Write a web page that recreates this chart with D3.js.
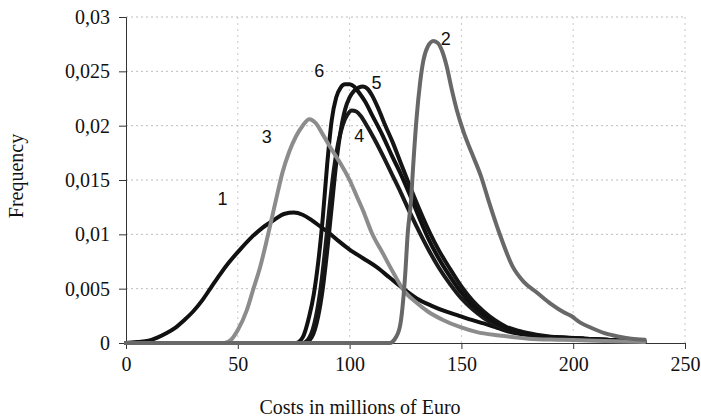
<!DOCTYPE html>
<html>
<head>
<meta charset="utf-8">
<script src="https://cdn.jsdelivr.net/npm/d3@7"></script>
<style>
  html, body { margin: 0; padding: 0; background: #fff; }
  svg { display: block; }
</style>
</head>
<body>
<svg id="chart" width="701" height="418"></svg>
<script>
// ---- data ----
const xTicks = [0, 50, 100, 150, 200, 250];
const yTicks = [0, 0.005, 0.01, 0.015, 0.02, 0.025, 0.03];
const yTickLabels = ["0", "0,005", "0,01", "0,015", "0,02", "0,025", "0,03"];
const xTitle = "Costs in millions of Euro";
const yTitle = "Frequency";

const c1x = [0,5,10,14,18,22,26,30,34,38,42,46,51,56,61,66,71,75,79,83,87,91,95,100,106,112,118,124,130,137,143,149,155,160,166,172,180,190,200,210,220,232];
const c1y = [0,0.0001,0.0002,0.0005,0.0009,0.0014,0.0021,0.0029,0.0039,0.0051,0.0063,0.0074,0.0086,0.0097,0.0106,0.0113,0.0119,0.0120,0.0118,0.0113,0.0107,0.0101,0.0094,0.0086,0.0078,0.0070,0.0060,0.0050,0.0041,0.0034,0.0029,0.0025,0.0021,0.0018,0.0014,0.0010,0.0007,0.0005,0.0004,0.0003,0.0002,0.0001];

const c2x = [0,118,120,122.5,124.8,126,127.5,128.4,130,131.5,133,135,137.5,139.5,141.5,143.5,145.5,148,151,154.6,159,162,167,173,178,184,190,196,199,203,208,214,220,226,232];
const c2y = [0,0,0.0003,0.0015,0.0061,0.0101,0.0132,0.0162,0.0208,0.0239,0.0260,0.0273,0.0278,0.0276,0.0268,0.0254,0.0235,0.0214,0.0194,0.0175,0.0152,0.0132,0.0101,0.0070,0.0056,0.0046,0.0036,0.0028,0.0025,0.0019,0.0014,0.0009,0.0006,0.0004,0.0003];

const c3x = [0,44,47,50,54,57,60,63,66,68,70,73,76,79,82,85,88,92,96,100,103,106,110,115,120,124,130,135,142,149,157,167,180,195,210,232];
const c3y = [0,0,0.0003,0.0012,0.003,0.005,0.007,0.0095,0.0122,0.0140,0.0157,0.0176,0.0190,0.0200,0.0206,0.0202,0.0192,0.0178,0.0165,0.0150,0.0136,0.0122,0.0101,0.0082,0.0063,0.0049,0.0037,0.0029,0.0021,0.0015,0.0010,0.0007,0.0004,0.0003,0.0002,0.0001];

const c4x = [0,79,82,85,87,89,91,93,95,97,99,101,103,105,108,111,115,119,123,127,131,135,140,145,150,155,160,165,170,178,186,195,205,215,225,232];
const c4y = [0,0,0.0005,0.0025,0.005,0.0085,0.0125,0.016,0.0185,0.0201,0.0210,0.0214,0.0213,0.0209,0.0199,0.0188,0.0172,0.0155,0.0138,0.0120,0.0103,0.0087,0.0069,0.0054,0.0041,0.0031,0.0023,0.0017,0.0013,0.0009,0.0006,0.0005,0.0004,0.0003,0.0002,0.0001];

const c5x = [0,80,83,86,88,90,92,94,96,98,100,102,104,106,108,110,113,116,119,123,127,131,136,140,145,150,155,160,165,170,178,186,195,205,215,225,232];
const c5y = [0,0,0.0005,0.0025,0.005,0.0085,0.0125,0.0165,0.0195,0.0215,0.0226,0.0232,0.0235,0.0236,0.0234,0.0228,0.0215,0.0200,0.0186,0.0165,0.0144,0.0124,0.0101,0.0085,0.0068,0.0052,0.0039,0.0029,0.0021,0.0015,0.0010,0.0007,0.0005,0.0004,0.0003,0.0002,0.0001];

const c6x = [0,76,79,82,84,86,88,90,92,94,96,98,100,102,104,107,110,115,119,123,127,131,135,139,144,149,155,160,165,170,178,186,195,205,215,225,232];
const c6y = [0,0,0.0005,0.0025,0.0045,0.0075,0.0115,0.0165,0.0205,0.0226,0.0235,0.0238,0.0238,0.0236,0.0231,0.0222,0.0210,0.0190,0.0172,0.0155,0.0136,0.0116,0.0097,0.0081,0.0064,0.0049,0.0035,0.0026,0.0019,0.0014,0.0009,0.0006,0.0005,0.0004,0.0003,0.0002,0.0001];

const seriesNames = ["1", "2", "3", "4", "5", "6"];
const labelX = [43.2, 143, 63, 104.3, 112, 86.4];
const labelY = [0.0133, 0.0280, 0.0190, 0.0191, 0.0240, 0.0251];

// ---- layout ----
const W = 701, H = 418;
const margin = { left: 126, right: 16, top: 17, bottom: 75 };
const svg = d3.select("#chart");
const x = d3.scaleLinear().domain([0, 250]).range([margin.left, W - margin.right]);
const y = d3.scaleLinear().domain([0, 0.03]).range([H - margin.bottom, margin.top]);

const serif = "'Liberation Serif', 'Times New Roman', serif";
const sans = "'Liberation Sans', Arial, sans-serif";

// gridlines
const grid = svg.append("g");
grid.selectAll("line.h").data(yTicks.slice(1)).enter().append("line")
  .attr("x1", x(0)).attr("x2", x(250))
  .attr("y1", d => y(d)).attr("y2", d => y(d))
  .attr("stroke", "#bdbdbd").attr("stroke-width", 1).attr("stroke-dasharray", "2,3");
grid.selectAll("line.v").data(xTicks.slice(1)).enter().append("line")
  .attr("x1", d => x(d)).attr("x2", d => x(d))
  .attr("y1", y(0)).attr("y2", y(0.03))
  .attr("stroke", "#c8c8c8").attr("stroke-width", 1).attr("stroke-dasharray", "2,4");

// axes
const yAxis = d3.axisLeft(y).tickValues(yTicks).tickSize(7).tickPadding(9)
  .tickFormat((d, i) => yTickLabels[i]);
const gy = svg.append("g").attr("transform", `translate(${x(0)},0)`).call(yAxis);
gy.select(".domain").attr("stroke", "#333");
gy.selectAll(".tick line").attr("stroke", "#333");
gy.selectAll("text").attr("font-family", serif).attr("font-size", 20).attr("fill", "#111").attr("dy", "0.32em");

const xAxis = d3.axisBottom(x).tickValues(xTicks).tickSize(6).tickPadding(20);
const gx = svg.append("g").attr("transform", `translate(0,${y(0)})`).call(xAxis);
gx.select(".domain").attr("stroke", "#333");
gx.selectAll(".tick line").attr("stroke", "#333");
gx.selectAll("text").attr("font-family", serif).attr("font-size", 20).attr("fill", "#111").attr("dy", "0.1em");

// curves
const line = d3.line().x(d => x(d[0])).y(d => y(d[1])).curve(d3.curveMonotoneX);
const curves = [
  { xs: c1x, ys: c1y, color: "#111" },
  { xs: c4x, ys: c4y, color: "#1a1a1a" },
  { xs: c5x, ys: c5y, color: "#151515" },
  { xs: c6x, ys: c6y, color: "#111" },
  { xs: c3x, ys: c3y, color: "#8c8c8c" },
  { xs: c2x, ys: c2y, color: "#686868" }
];
svg.append("g").selectAll("path").data(curves).enter().append("path")
  .attr("d", c => line(c.xs.map((v, i) => [v, c.ys[i]])))
  .attr("fill", "none")
  .attr("stroke", c => c.color)
  .attr("stroke-width", 4)
  .attr("stroke-linejoin", "round")
  .attr("stroke-linecap", "round");

// curve labels
svg.append("g").selectAll("text").data(seriesNames).enter().append("text")
  .attr("x", (d, i) => x(labelX[i]))
  .attr("y", (d, i) => y(labelY[i]))
  .attr("dy", "0.36em")
  .attr("text-anchor", "middle")
  .attr("font-family", sans).attr("font-size", 18).attr("fill", "#111")
  .text(d => d);

// titles
svg.append("text").attr("x", 360).attr("y", 414).attr("text-anchor", "middle")
  .attr("font-family", serif).attr("font-size", 20).attr("fill", "#111").text(xTitle);
svg.append("text").attr("transform", "translate(23,176) rotate(-90)").attr("text-anchor", "middle")
  .attr("font-family", serif).attr("font-size", 20).attr("fill", "#111").text(yTitle);
</script>
</body>
</html>
